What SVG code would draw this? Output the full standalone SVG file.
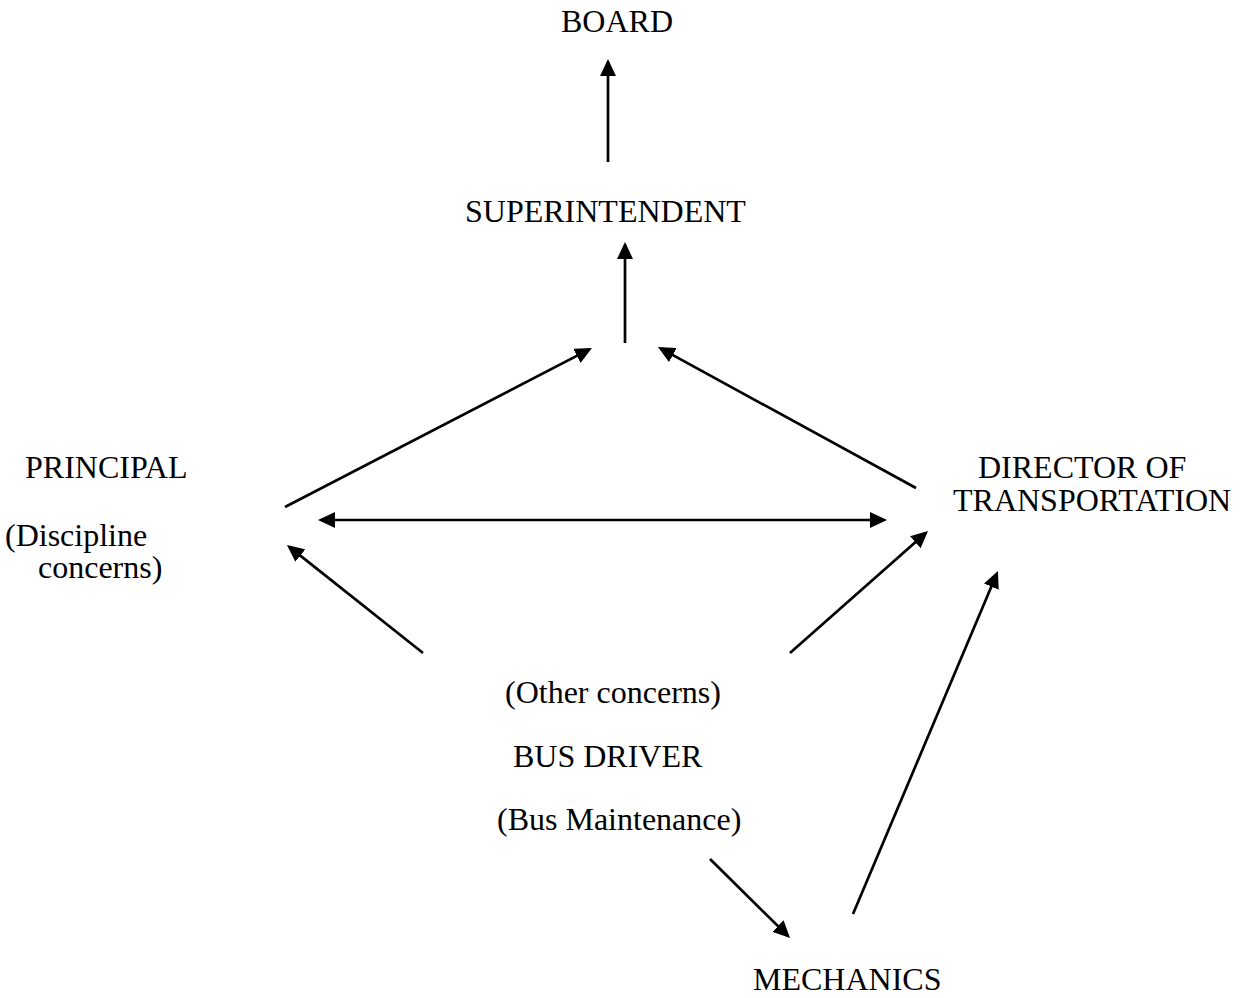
<svg xmlns="http://www.w3.org/2000/svg" width="1252" height="998" viewBox="0 0 1252 998">
<style>
text{font-family:"Liberation Serif","Times New Roman",serif;font-size:32px;fill:#000}
.c line{stroke:#000;stroke-width:2.7;fill:none;marker-end:url(#ah)}
</style>
<defs>
<marker id="ah" markerUnits="userSpaceOnUse" markerWidth="18" markerHeight="16" refX="14" refY="8" orient="auto-start-reverse" viewBox="0 0 18 16">
<path d="M0,0 L17,8 L0,16 z" fill="#000"/>
</marker>
</defs>
<rect width="1252" height="998" fill="#fff"/>
<g id="board"><text x="561" y="32">BOARD</text></g>
<g id="superintendent"><text x="465" y="222">SUPERINTENDENT</text></g>
<g id="principal"><text x="25" y="478">PRINCIPAL</text><text x="5" y="546">(Discipline</text><text x="38" y="578">concerns)</text></g>
<g id="director"><text x="978" y="478">DIRECTOR OF</text><text x="953" y="510.5">TRANSPORTATION</text></g>
<g id="busdriver"><text x="505" y="703">(Other concerns)</text><text x="513" y="767">BUS DRIVER</text><text x="497" y="830">(Bus Maintenance)</text></g>
<g id="mechanics"><text x="753" y="990">MECHANICS</text></g>
<g id="connectors" class="c">
<line x1="608" y1="162" x2="608" y2="62"/>
<line x1="625" y1="343" x2="625" y2="245"/>
<line x1="285" y1="507" x2="589.3" y2="349.4"/>
<line x1="916" y1="488" x2="660.6" y2="348.4"/>
<line x1="321" y1="520" x2="884" y2="520" style="marker-start:url(#ah)"/>
<line x1="423" y1="653" x2="289.3" y2="546.9"/>
<line x1="790" y1="653" x2="925.8" y2="533"/>
<line x1="853" y1="914" x2="996.8" y2="573.8"/>
<line x1="710" y1="859" x2="787.9" y2="935.9"/>
</g>
</svg>
